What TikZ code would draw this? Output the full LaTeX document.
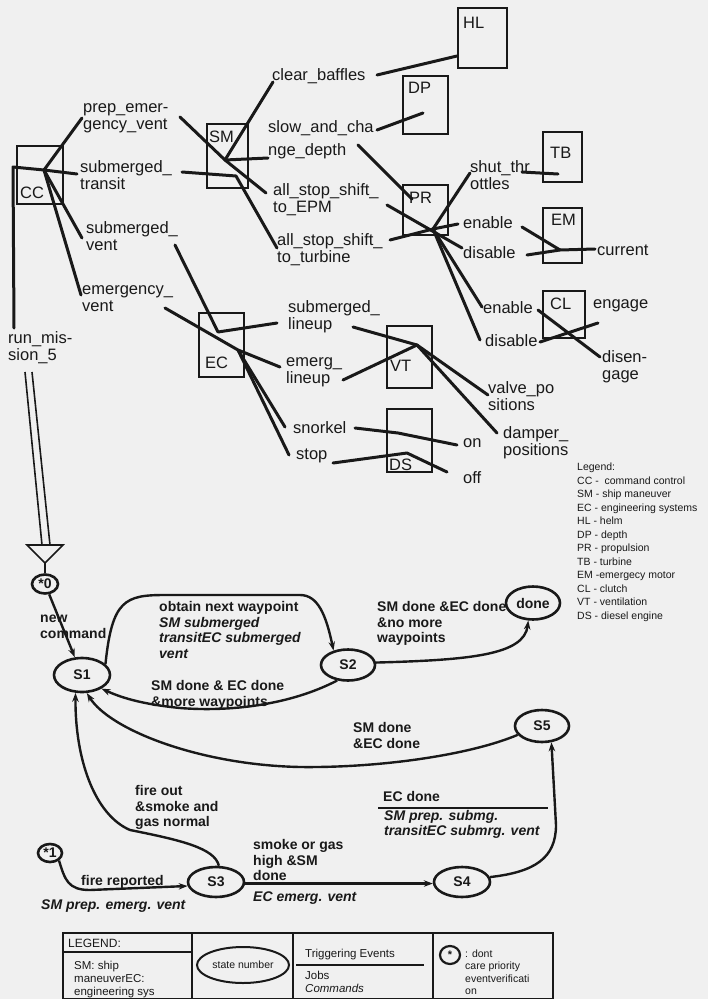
\documentclass[tikz,border=0pt]{standalone}
\usepackage{fontspec}
\setmainfont{Liberation Sans}
\usetikzlibrary{arrows.meta,shapes.geometric}
\definecolor{bg}{RGB}{240,240,240}
\definecolor{ink}{RGB}{25,25,25}
\begin{document}
\begin{tikzpicture}[x=1pt,y=-1pt,
  every node/.style={text=ink},
  tl/.style={font=\fontsize{16.5}{17}\selectfont, inner sep=0pt, align=left, anchor=west},
  bl/.style={font=\fontsize{14}{15.5}\selectfont\bfseries, inner sep=0pt, align=left, anchor=west},
  lg/.style={font=\fontsize{11.5}{13}\selectfont, inner sep=0pt, align=left, anchor=west},
  modbox/.style={draw=ink, line width=2.6pt, inner sep=0pt},
  con/.style={draw=ink, line width=3pt, line cap=round, line join=round},
  stn/.style={draw=ink, line width=2.6pt, ellipse, inner sep=0pt, font=\fontsize{14}{14}\selectfont\bfseries},
  arr/.style={draw=ink, line width=2.4pt, -{Stealth[length=9pt,width=6.5pt]}},
  thin/.style={draw=ink, line width=2pt},
]
\useasboundingbox (0,0) rectangle (708,999);
\fill[bg] (0,0) rectangle (708,999);

% ---------------- modules (boxes) ----------------
\node[modbox, minimum width=46pt, minimum height=58pt] (cc) at (40,175) {};
\node[modbox, minimum width=41pt, minimum height=64pt] (sm) at (227.5,156) {};
\node[modbox, minimum width=49pt, minimum height=60pt] (hl) at (482.5,38) {};
\node[modbox, minimum width=45pt, minimum height=58pt] (dp) at (425.5,105) {};
\node[modbox, minimum width=45pt, minimum height=50pt] (pr) at (425.5,210) {};
\node[modbox, minimum width=39pt, minimum height=50pt] (tb) at (562.5,157) {};
\node[modbox, minimum width=39pt, minimum height=55pt] (em) at (562.5,235.5) {};
\node[modbox, minimum width=42pt, minimum height=47pt] (cl) at (564,314.5) {};
\node[modbox, minimum width=45pt, minimum height=64pt] (ec) at (221.5,345) {};
\node[modbox, minimum width=45pt, minimum height=62pt] (vt) at (409.5,357) {};
\node[modbox, minimum width=45pt, minimum height=63pt] (ds) at (409.5,440.5) {};

\node[tl] (cct) at (20,193) {CC};
\node[tl] (smt) at (209,137) {SM};
\node[tl] (hlt) at (463,23) {HL};
\node[tl] (dpt) at (408,88) {DP};
\node[tl] (prt) at (409,198) {PR};
\node[tl] (tbt) at (550,153) {TB};
\node[tl] (emt) at (551,220) {EM};
\node[tl] (clt) at (550,304) {CL};
\node[tl] (ect) at (205,363) {EC};
\node[tl] (vtt) at (390,366) {VT};
\node[tl] (dst) at (389,465) {DS};

% ---------------- labels (top) ----------------
\node[tl] (lprep) at (83,118.5) {prep\_emer-\\gency\_vent};
\node[tl] (ltrans) at (80,175) {submerged\_\\transit};
\node[tl] (lsubv) at (86,236.5) {submerged\_\\vent};
\node[tl] (lemv) at (82,299) {emergency\_\\vent};
\node[tl] (lrun) at (8,348) {run\_mis-\\sion\_5};
\node[tl] (lclear) at (272,76) {clear\_baffles};
\node[tl] (lslow) at (268,140) {slow\_and\_cha\\[6pt]nge\_depth};
\node[tl] (lepm) at (273,199.5) {all\_stop\_shift\_\\to\_EPM};
\node[tl] (lturb) at (277,250) {all\_stop\_shift\_\\to\_turbine};
\node[tl] (lshut) at (470,175) {shut\_thr\\ottles};
\node[tl] (len1) at (463,223) {enable};
\node[tl] (ldis1) at (463,253) {disable};
\node[tl] (lcur) at (597,250) {current};
\node[tl] (len2) at (483,308) {enable};
\node[tl] (ldis2) at (485,341) {disable};
\node[tl] (leng) at (593,306) {engage};
\node[tl] (ldisen) at (602,367) {disen-\\gage};
\node[tl] (lsubl) at (288,317) {submerged\_\\lineup};
\node[tl] (leml) at (286,372) {emerg\_\\lineup};
\node[tl] (lsnor) at (293,428) {snorkel};
\node[tl] (lstop) at (296,456) {stop};
\node[tl] (lvalve) at (488,396) {valve\_po\\sitions};
\node[tl] (ldamp) at (503,442.5) {damper\_\\positions};
\node[tl] (lon) at (463,443) {on};
\node[tl] (loff) at (463,478) {off};

% ---------------- connector points ----------------
\coordinate (cch) at (44,170);
\coordinate (smh) at (225,160);
\coordinate (prh) at (433,229);
\coordinate (emh) at (560,250);
\coordinate (ech) at (238,350);
\coordinate (vth) at (417,345);
\coordinate (p1) at (82,118);
\coordinate (p2) at (77,174);
\coordinate (p3) at (13,167);
\coordinate (p4) at (14,328);
\coordinate (p5) at (82,238);
\coordinate (p6) at (81,295);
\coordinate (q1) at (180,117);
\coordinate (q2) at (266,193);
\coordinate (q3) at (273,82);
\coordinate (q4) at (268,158);
\coordinate (q5) at (182,172);
\coordinate (q6) at (236,176);
\coordinate (q7) at (277,248);
\coordinate (r1) at (377,75);
\coordinate (r2) at (457,56);
\coordinate (r3) at (377,130);
\coordinate (r4) at (423,113);
\coordinate (r5) at (358,145);
\coordinate (r6) at (412,199);
\coordinate (r7) at (387,205);
\coordinate (r8) at (462,248);
\coordinate (r9) at (390,240);
\coordinate (r10) at (458,224);
\coordinate (r11) at (470,173);
\coordinate (r12) at (482,307);
\coordinate (r13) at (480,340);
\coordinate (t1) at (522,172);
\coordinate (t2) at (558,174);
\coordinate (t3) at (522,227);
\coordinate (t4) at (527,255);
\coordinate (t5) at (595,249);
\coordinate (u1) at (538,310);
\coordinate (u2) at (600,357);
\coordinate (u3) at (540,342);
\coordinate (u4) at (598,323);
\coordinate (v1) at (175,245);
\coordinate (v2) at (218,332);
\coordinate (v3) at (277,323);
\coordinate (v4) at (165,308);
\coordinate (v5) at (280,367);
\coordinate (v6) at (285,427);
\coordinate (v7) at (289,455);
\coordinate (w1) at (353,327);
\coordinate (w2) at (488,395);
\coordinate (w3) at (343,380);
\coordinate (w4) at (497,433);
\coordinate (w5) at (355,428);
\coordinate (w6) at (398,433);
\coordinate (w7) at (457,445);
\coordinate (w8) at (333,463);
\coordinate (w9) at (407,453);
\coordinate (w10) at (447,472);

% ---------------- connectors (top) ----------------
\draw[con] (cch) -- (p1);
\draw[con] (p2) -- (cch) -- (p3) -- (p4);
\draw[con] (cch) -- (p5);
\draw[con] (cch) -- (p6);
\draw[con] (q1) -- (smh) -- (q2);
\draw[con] (smh) -- (q3);
\draw[con] (smh) -- (q4);
\draw[con] (q5) -- (q6) -- (q7);
\draw[con] (r1) -- (r2);
\draw[con] (r3) -- (r4);
\draw[con] (r5) -- (r6);
\draw[con] (r7) -- (r8);
\draw[con] (r9) -- (prh) -- (r10);
\draw[con] (prh) -- (r11);
\draw[con] (prh) -- (r12);
\draw[con] (prh) -- (r13);
\draw[con] (t1) -- (t2);
\draw[con] (t3) -- (emh);
\draw[con] (t4) -- (emh) -- (t5);
\draw[con] (u1) -- (u2);
\draw[con] (u3) -- (u4);
\draw[con] (v1) -- (v2) -- (v3);
\draw[con] (v4) -- (ech) -- (v5);
\draw[con] (ech) -- (v6);
\draw[con] (ech) -- (v7);
\draw[con] (w1) -- (vth) -- (w2);
\draw[con] (w3) -- (vth);
\draw[con] (vth) -- (w4);
\draw[con] (w5) -- (w6) -- (w7);
\draw[con] (w8) -- (w9) -- (w10);

% ---------------- double arrow ----------------
\coordinate (d1) at (25,372);
\coordinate (d2) at (32,372);
\coordinate (d3) at (42,545);
\coordinate (d4) at (50,545);
\coordinate (tra) at (27,545);
\coordinate (trb) at (63,545);
\coordinate (trc) at (45,563);
\draw[ink, line width=1.6pt] (d1) -- (d3);
\draw[ink, line width=1.6pt] (d2) -- (d4);
\draw[ink, line width=1.6pt, line join=miter] (tra) -- (trb) -- (trc) -- cycle;

% ---------------- legend (right) ----------------
\node[font=\fontsize{10.5}{13.5}\selectfont, inner sep=0pt, align=left, anchor=north west] (leg) at (577,463)
 {Legend:\\CC -\ \ command control\\SM - ship maneuver\\EC - engineering systems\\HL - helm\\DP - depth\\PR - propulsion\\TB - turbine\\EM -emergecy motor\\CL - clutch\\VT - ventilation\\DS - diesel engine};

% ---------------- state diagram ----------------
\node[stn, minimum width=26pt, minimum height=19pt] (z0) at (45,584) {*0};
\node[stn, minimum width=56pt, minimum height=34pt] (s1) at (82,675) {S1};
\node[stn, minimum width=54pt, minimum height=31pt] (s2) at (348,665) {S2};
\node[stn, minimum width=54pt, minimum height=33pt] (dn) at (533,603) {done};
\node[stn, minimum width=54pt, minimum height=32pt] (s5) at (542,726) {S5};
\node[stn, minimum width=56pt, minimum height=30pt] (s3) at (216,882) {S3};
\node[stn, minimum width=56pt, minimum height=30pt] (s4) at (462,882) {S4};
\node[stn, minimum width=24pt, minimum height=18pt] (z1) at (50,853) {*1};

\draw[ink, line width=1.6pt] (trc) -- (z0);

\draw[arr] (z0) -- (s1);
\draw[arr] (s1.25) .. controls (112,600) and (125,595) .. (165,595) -- (300,595) .. controls (318,595) and (326,615) .. (s2.135);
\draw[arr] (s2.235) .. controls (290,705) and (230,712) .. (180,708) .. controls (140,704) and (120,697) .. (s1.-35);
\draw[arr] (s2.5) .. controls (470,660) and (524,655) .. (dn.255);
\draw[arr] (s5.200) .. controls (470,755) and (380,768) .. (300,767) .. controls (200,765) and (110,730) .. (s1.-75);
\draw[arr] (s3.80) .. controls (215,848) and (180,840) .. (130,830) .. controls (95,815) and (75,760) .. (s1.-110);
\draw[arr] (z1.-40) .. controls (65,880) and (68,890) .. (90,890) -- (s3.188);
\draw[arr] (s3.-3) -- (s4.183);
\draw[arr] (s4.10) .. controls (535,872) and (556,858) .. (556,825) -- (s5.-60);

\node[bl] (lnew) at (40,627) {new\\command};
\node[bl] (lobt) at (159,630) {obtain next waypoint\\\textit{SM submerged}\\\textit{transitEC submerged}\\\textit{vent}};
\node[bl] (lmore) at (151,695) {SM done \& EC done\\\&more waypoints};
\node[bl] (lnomore) at (377,623.5) {SM done \&EC done\\\&no more\\waypoints};
\node[bl] (ls5) at (353,735.5) {SM done\\\&EC done};
\node[bl] (lecd) at (383,796) {EC done};
\coordinate (ln1) at (378,808);
\coordinate (ln2) at (548,808);
\draw[thin] (ln1) -- (ln2);
\node[bl] (lprepsub) at (384,824.5) {\textit{SM prep. submg.}\\\textit{transitEC submrg. vent}};
\node[bl] (lfire) at (135,807.5) {fire out\\\&smoke and\\gas normal};
\node[bl] (lsmoke) at (253,860) {smoke or gas\\high \&SM\\done};
\node[bl] (lecem) at (253,898) {\textit{EC emerg. vent}};
\node[bl] (lfirer) at (81,882) {fire reported};
\node[bl] (lprepem) at (41,906) {\textit{SM prep. emerg. vent}};

% ---------------- legend (bottom) ----------------
\node[draw=ink, line width=2pt, minimum width=490pt, minimum height=66pt, inner sep=0pt] (lgbox) at (308,966) {};
\coordinate (g1t) at (192,933); \coordinate (g1b) at (192,999);
\coordinate (g2t) at (293,933); \coordinate (g2b) at (293,999);
\coordinate (g3t) at (433,933); \coordinate (g3b) at (433,999);
\coordinate (h1a) at (63,952); \coordinate (h1b) at (192,952);
\draw[thin] (g1t) -- (g1b);
\draw[thin] (g2t) -- (g2b);
\draw[thin] (g3t) -- (g3b);
\draw[ink, line width=2.6pt] (h1a) -- (h1b);
\node[lg, font=\fontsize{12}{13}\selectfont] (lgt) at (68,943) {LEGEND:};
\node[lg] (lgsm) at (74,980) {SM: ship\\maneuverEC:\\engineering sys};
\node[draw=ink, line width=2pt, ellipse, minimum width=92pt, minimum height=36pt, inner sep=0pt, font=\fontsize{10.5}{10.5}\selectfont] (lgst) at (243,965) {state number};
\node[lg] (lgtrig) at (305,955) {Triggering Events};
\coordinate (h2a) at (296,965); \coordinate (h2b) at (424,965);
\draw[thin] (h2a) -- (h2b);
\node[lg] (lgjobs) at (305,981.5) {Jobs\\\textit{Commands}};
\node[draw=ink, line width=2.2pt, ellipse, minimum width=20pt, minimum height=18pt, inner sep=0pt, font=\fontsize{11}{11}\selectfont\bfseries] (lgstar) at (450,955) {*};
\node[lg, font=\fontsize{10.5}{12.5}\selectfont] (lgdc) at (465,972) {: dont\\care priority\\eventverificati\\on};
\end{tikzpicture}
\end{document}
